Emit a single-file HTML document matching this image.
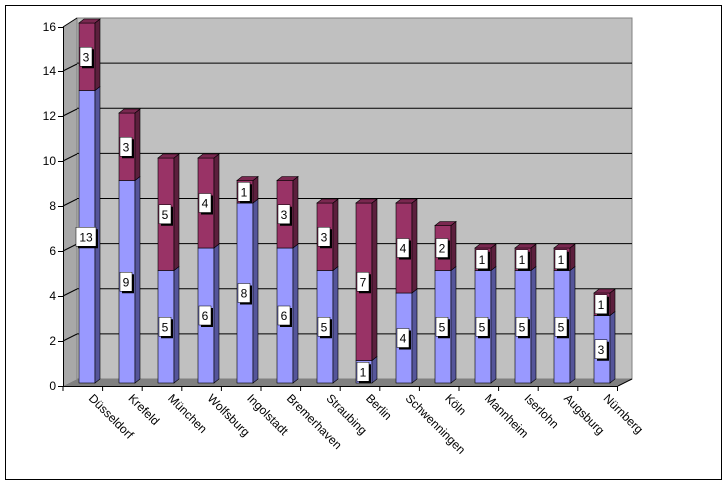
<!DOCTYPE html>
<html><head><meta charset="utf-8"><style>
html,body{margin:0;padding:0;background:#fff;}
svg{display:block;font-family:"Liberation Sans",Arial,sans-serif;}
.b{fill:#9999ff;stroke:#000;stroke-width:0.6}
.bs{fill:#55559a;stroke:#000;stroke-width:0.6}
.m{fill:#993366;stroke:#000;stroke-width:0.6}
.ms{fill:#5c1f3d;stroke:#000;stroke-width:0.6}
.mt{fill:#7a2850;stroke:#000;stroke-width:0.6}
.sh{fill:#000}
.wb{fill:#fff;stroke:#000;stroke-width:0.5}
.lt{font-size:12px;text-anchor:middle}
.cat{font-size:12px}
</style></head><body>
<svg width="727" height="484" viewBox="0 0 727 484" xmlns="http://www.w3.org/2000/svg">
<rect x="5.5" y="5.5" width="716" height="474" fill="#fff" stroke="#000"/>
<polygon points="63,27 77,18 77,379 63,386" fill="#a8a8a8"/>
<rect x="77" y="18" width="555" height="361" fill="#c0c0c0" stroke="#808080"/>
<polygon points="63,386 77,379 632,379 618,386" fill="#808080"/>
<g stroke="#000" stroke-width="1">
<line x1="77" y1="333.9" x2="632" y2="333.9"/>
<line x1="77" y1="288.8" x2="632" y2="288.8"/>
<line x1="77" y1="243.6" x2="632" y2="243.6"/>
<line x1="77" y1="198.5" x2="632" y2="198.5"/>
<line x1="77" y1="153.4" x2="632" y2="153.4"/>
<line x1="77" y1="108.3" x2="632" y2="108.3"/>
<line x1="77" y1="63.1" x2="632" y2="63.1"/>
<line x1="63" y1="341" x2="77" y2="334"/><line x1="63" y1="296" x2="77" y2="289"/>
<line x1="63" y1="251" x2="77" y2="244"/><line x1="63" y1="206" x2="77" y2="199"/>
<line x1="63" y1="161" x2="77" y2="154"/><line x1="63" y1="116" x2="77" y2="109"/>
<line x1="63" y1="71" x2="77" y2="64"/><line x1="63" y1="27" x2="77" y2="18"/>
<line x1="63.5" y1="27" x2="63.5" y2="386"/>
<line x1="63" y1="386.5" x2="618" y2="386.5"/>
<line x1="618" y1="386" x2="632" y2="379"/>
<line x1="58" y1="386.5" x2="63" y2="386.5"/><line x1="58" y1="341.5" x2="63" y2="341.5"/>
<line x1="58" y1="296.5" x2="63" y2="296.5"/><line x1="58" y1="251.5" x2="63" y2="251.5"/>
<line x1="58" y1="206.5" x2="63" y2="206.5"/><line x1="58" y1="161.5" x2="63" y2="161.5"/>
<line x1="58" y1="116.5" x2="63" y2="116.5"/><line x1="58" y1="71.5" x2="63" y2="71.5"/>
<line x1="58" y1="27.5" x2="63" y2="27.5"/>
<line x1="63" y1="386" x2="63" y2="391"/><line x1="102.6" y1="386" x2="102.6" y2="391"/>
<line x1="142.2" y1="386" x2="142.2" y2="391"/><line x1="181.8" y1="386" x2="181.8" y2="391"/>
<line x1="221.4" y1="386" x2="221.4" y2="391"/><line x1="261" y1="386" x2="261" y2="391"/>
<line x1="300.6" y1="386" x2="300.6" y2="391"/><line x1="340.2" y1="386" x2="340.2" y2="391"/>
<line x1="379.8" y1="386" x2="379.8" y2="391"/><line x1="419.4" y1="386" x2="419.4" y2="391"/>
<line x1="459" y1="386" x2="459" y2="391"/><line x1="498.6" y1="386" x2="498.6" y2="391"/>
<line x1="538.2" y1="386" x2="538.2" y2="391"/><line x1="577.8" y1="386" x2="577.8" y2="391"/>
<line x1="617.5" y1="386" x2="617.5" y2="391"/>
</g>
<g font-size="12" text-anchor="end" fill="#000">
<text x="56" y="390">0</text><text x="56" y="345">2</text><text x="56" y="300">4</text>
<text x="56" y="255">6</text><text x="56" y="210">8</text><text x="56" y="165">10</text>
<text x="56" y="120">12</text><text x="56" y="75">14</text><text x="56" y="31">16</text>
</g>

<!-- Düsseldorf 13/3 -->
<g transform="translate(79,0)">
<rect class="b" x="0" y="90.5" width="16" height="292.5"/><polygon class="bs" points="16,383 21,379 21,86.5 16,90.5"/>
<rect class="m" x="0" y="23" width="16" height="67.5"/><polygon class="ms" points="16,90.5 21,86.5 21,19 16,23"/><polygon class="mt" points="0,23 5,19 21,19 16,23"/>
<rect class="sh" x="-1" y="229.25" width="20" height="19"/><rect class="wb" x="-3" y="227.25" width="20" height="19"/><text class="lt" x="7" y="241.25">13</text>
<rect class="sh" x="3" y="49.25" width="12" height="19"/><rect class="wb" x="1" y="47.25" width="12" height="19"/><text class="lt" x="7" y="61.25">3</text>
</g>
<!-- Krefeld 9/3 -->
<g transform="translate(119,0)">
<rect class="b" x="0" y="180.5" width="16" height="202.5"/><polygon class="bs" points="16,383 21,379 21,176.5 16,180.5"/>
<rect class="m" x="0" y="113" width="16" height="67.5"/><polygon class="ms" points="16,180.5 21,176.5 21,109 16,113"/><polygon class="mt" points="0,113 5,109 21,109 16,113"/>
<rect class="sh" x="3" y="274.25" width="12" height="19"/><rect class="wb" x="1" y="272.25" width="12" height="19"/><text class="lt" x="7" y="286.25">9</text>
<rect class="sh" x="3" y="139.25" width="12" height="19"/><rect class="wb" x="1" y="137.25" width="12" height="19"/><text class="lt" x="7" y="151.25">3</text>
</g>
<!-- München 5/5 -->
<g transform="translate(158,0)">
<rect class="b" x="0" y="270.5" width="16" height="112.5"/><polygon class="bs" points="16,383 21,379 21,266.5 16,270.5"/>
<rect class="m" x="0" y="158" width="16" height="112.5"/><polygon class="ms" points="16,270.5 21,266.5 21,154 16,158"/><polygon class="mt" points="0,158 5,154 21,154 16,158"/>
<rect class="sh" x="3" y="319.25" width="12" height="19"/><rect class="wb" x="1" y="317.25" width="12" height="19"/><text class="lt" x="7" y="331.25">5</text>
<rect class="sh" x="3" y="206.75" width="12" height="19"/><rect class="wb" x="1" y="204.75" width="12" height="19"/><text class="lt" x="7" y="218.75">5</text>
</g>
<!-- Wolfsburg 6/4 -->
<g transform="translate(198,0)">
<rect class="b" x="0" y="248" width="16" height="135"/><polygon class="bs" points="16,383 21,379 21,244 16,248"/>
<rect class="m" x="0" y="158" width="16" height="90"/><polygon class="ms" points="16,248 21,244 21,154 16,158"/><polygon class="mt" points="0,158 5,154 21,154 16,158"/>
<rect class="sh" x="3" y="308" width="12" height="19"/><rect class="wb" x="1" y="306" width="12" height="19"/><text class="lt" x="7" y="320">6</text>
<rect class="sh" x="3" y="195.5" width="12" height="19"/><rect class="wb" x="1" y="193.5" width="12" height="19"/><text class="lt" x="7" y="207.5">4</text>
</g>
<!-- Ingolstadt 8/1 -->
<g transform="translate(237,0)">
<rect class="b" x="0" y="203" width="16" height="180"/><polygon class="bs" points="16,383 21,379 21,199 16,203"/>
<rect class="m" x="0" y="180.5" width="16" height="22.5"/><polygon class="ms" points="16,203 21,199 21,176.5 16,180.5"/><polygon class="mt" points="0,180.5 5,176.5 21,176.5 16,180.5"/>
<rect class="sh" x="3" y="285.5" width="12" height="19"/><rect class="wb" x="1" y="283.5" width="12" height="19"/><text class="lt" x="7" y="297.5">8</text>
<rect class="sh" x="3" y="184.25" width="12" height="19"/><rect class="wb" x="1" y="182.25" width="12" height="19"/><text class="lt" x="7" y="196.25">1</text>
</g>
<!-- Bremerhaven 6/3 -->
<g transform="translate(277,0)">
<rect class="b" x="0" y="248" width="16" height="135"/><polygon class="bs" points="16,383 21,379 21,244 16,248"/>
<rect class="m" x="0" y="180.5" width="16" height="67.5"/><polygon class="ms" points="16,248 21,244 21,176.5 16,180.5"/><polygon class="mt" points="0,180.5 5,176.5 21,176.5 16,180.5"/>
<rect class="sh" x="3" y="308" width="12" height="19"/><rect class="wb" x="1" y="306" width="12" height="19"/><text class="lt" x="7" y="320">6</text>
<rect class="sh" x="3" y="206.75" width="12" height="19"/><rect class="wb" x="1" y="204.75" width="12" height="19"/><text class="lt" x="7" y="218.75">3</text>
</g>
<!-- Straubing 5/3 -->
<g transform="translate(317,0)">
<rect class="b" x="0" y="270.5" width="16" height="112.5"/><polygon class="bs" points="16,383 21,379 21,266.5 16,270.5"/>
<rect class="m" x="0" y="203" width="16" height="67.5"/><polygon class="ms" points="16,270.5 21,266.5 21,199 16,203"/><polygon class="mt" points="0,203 5,199 21,199 16,203"/>
<rect class="sh" x="3" y="319.25" width="12" height="19"/><rect class="wb" x="1" y="317.25" width="12" height="19"/><text class="lt" x="7" y="331.25">5</text>
<rect class="sh" x="3" y="229.25" width="12" height="19"/><rect class="wb" x="1" y="227.25" width="12" height="19"/><text class="lt" x="7" y="241.25">3</text>
</g>
<!-- Berlin 1/7 -->
<g transform="translate(356,0)">
<rect class="b" x="0" y="360.5" width="16" height="22.5"/><polygon class="bs" points="16,383 21,379 21,356.5 16,360.5"/>
<rect class="m" x="0" y="203" width="16" height="157.5"/><polygon class="ms" points="16,360.5 21,356.5 21,199 16,203"/><polygon class="mt" points="0,203 5,199 21,199 16,203"/>
<rect class="sh" x="3" y="364.25" width="12" height="19"/><rect class="wb" x="1" y="362.25" width="12" height="19"/><text class="lt" x="7" y="376.25">1</text>
<rect class="sh" x="3" y="274.25" width="12" height="19"/><rect class="wb" x="1" y="272.25" width="12" height="19"/><text class="lt" x="7" y="286.25">7</text>
</g>
<!-- Schwenningen 4/4 -->
<g transform="translate(396,0)">
<rect class="b" x="0" y="293" width="16" height="90"/><polygon class="bs" points="16,383 21,379 21,289 16,293"/>
<rect class="m" x="0" y="203" width="16" height="90"/><polygon class="ms" points="16,293 21,289 21,199 16,203"/><polygon class="mt" points="0,203 5,199 21,199 16,203"/>
<rect class="sh" x="3" y="330.5" width="12" height="19"/><rect class="wb" x="1" y="328.5" width="12" height="19"/><text class="lt" x="7" y="342.5">4</text>
<rect class="sh" x="3" y="240.5" width="12" height="19"/><rect class="wb" x="1" y="238.5" width="12" height="19"/><text class="lt" x="7" y="252.5">4</text>
</g>
<!-- Köln 5/2 -->
<g transform="translate(435,0)">
<rect class="b" x="0" y="270.5" width="16" height="112.5"/><polygon class="bs" points="16,383 21,379 21,266.5 16,270.5"/>
<rect class="m" x="0" y="225.5" width="16" height="45"/><polygon class="ms" points="16,270.5 21,266.5 21,221.5 16,225.5"/><polygon class="mt" points="0,225.5 5,221.5 21,221.5 16,225.5"/>
<rect class="sh" x="3" y="319.25" width="12" height="19"/><rect class="wb" x="1" y="317.25" width="12" height="19"/><text class="lt" x="7" y="331.25">5</text>
<rect class="sh" x="3" y="240.5" width="12" height="19"/><rect class="wb" x="1" y="238.5" width="12" height="19"/><text class="lt" x="7" y="252.5">2</text>
</g>
<!-- Mannheim 5/1 -->
<g transform="translate(475,0)">
<rect class="b" x="0" y="270.5" width="16" height="112.5"/><polygon class="bs" points="16,383 21,379 21,266.5 16,270.5"/>
<rect class="m" x="0" y="248" width="16" height="22.5"/><polygon class="ms" points="16,270.5 21,266.5 21,244 16,248"/><polygon class="mt" points="0,248 5,244 21,244 16,248"/>
<rect class="sh" x="3" y="319.25" width="12" height="19"/><rect class="wb" x="1" y="317.25" width="12" height="19"/><text class="lt" x="7" y="331.25">5</text>
<rect class="sh" x="3" y="251.75" width="12" height="19"/><rect class="wb" x="1" y="249.75" width="12" height="19"/><text class="lt" x="7" y="263.75">1</text>
</g>
<!-- Iserlohn 5/1 -->
<g transform="translate(515,0)">
<rect class="b" x="0" y="270.5" width="16" height="112.5"/><polygon class="bs" points="16,383 21,379 21,266.5 16,270.5"/>
<rect class="m" x="0" y="248" width="16" height="22.5"/><polygon class="ms" points="16,270.5 21,266.5 21,244 16,248"/><polygon class="mt" points="0,248 5,244 21,244 16,248"/>
<rect class="sh" x="3" y="319.25" width="12" height="19"/><rect class="wb" x="1" y="317.25" width="12" height="19"/><text class="lt" x="7" y="331.25">5</text>
<rect class="sh" x="3" y="251.75" width="12" height="19"/><rect class="wb" x="1" y="249.75" width="12" height="19"/><text class="lt" x="7" y="263.75">1</text>
</g>
<!-- Augsburg 5/1 -->
<g transform="translate(554,0)">
<rect class="b" x="0" y="270.5" width="16" height="112.5"/><polygon class="bs" points="16,383 21,379 21,266.5 16,270.5"/>
<rect class="m" x="0" y="248" width="16" height="22.5"/><polygon class="ms" points="16,270.5 21,266.5 21,244 16,248"/><polygon class="mt" points="0,248 5,244 21,244 16,248"/>
<rect class="sh" x="3" y="319.25" width="12" height="19"/><rect class="wb" x="1" y="317.25" width="12" height="19"/><text class="lt" x="7" y="331.25">5</text>
<rect class="sh" x="3" y="251.75" width="12" height="19"/><rect class="wb" x="1" y="249.75" width="12" height="19"/><text class="lt" x="7" y="263.75">1</text>
</g>
<!-- Nürnberg 3/1 -->
<g transform="translate(594,0)">
<rect class="b" x="0" y="315.5" width="16" height="67.5"/><polygon class="bs" points="16,383 21,379 21,311.5 16,315.5"/>
<rect class="m" x="0" y="293" width="16" height="22.5"/><polygon class="ms" points="16,315.5 21,311.5 21,289 16,293"/><polygon class="mt" points="0,293 5,289 21,289 16,293"/>
<rect class="sh" x="3" y="341.75" width="12" height="19"/><rect class="wb" x="1" y="339.75" width="12" height="19"/><text class="lt" x="7" y="353.75">3</text>
<rect class="sh" x="3" y="296.75" width="12" height="19"/><rect class="wb" x="1" y="294.75" width="12" height="19"/><text class="lt" x="7" y="308.75">1</text>
</g>

<g class="cat">
<text transform="translate(88,399) rotate(45)">Düsseldorf</text>
<text transform="translate(127.6,399) rotate(45)">Krefeld</text>
<text transform="translate(167.2,399) rotate(45)">München</text>
<text transform="translate(206.8,399) rotate(45)">Wolfsburg</text>
<text transform="translate(246.4,399) rotate(45)">Ingolstadt</text>
<text transform="translate(286,399) rotate(45)">Bremerhaven</text>
<text transform="translate(325.6,399) rotate(45)">Straubing</text>
<text transform="translate(365.2,399) rotate(45)">Berlin</text>
<text transform="translate(404.8,399) rotate(45)">Schwenningen</text>
<text transform="translate(444.4,399) rotate(45)">Köln</text>
<text transform="translate(484,399) rotate(45)">Mannheim</text>
<text transform="translate(523.6,399) rotate(45)">Iserlohn</text>
<text transform="translate(563.2,399) rotate(45)">Augsburg</text>
<text transform="translate(602.8,399) rotate(45)">Nürnberg</text>
</g>
</svg>
</body></html>
